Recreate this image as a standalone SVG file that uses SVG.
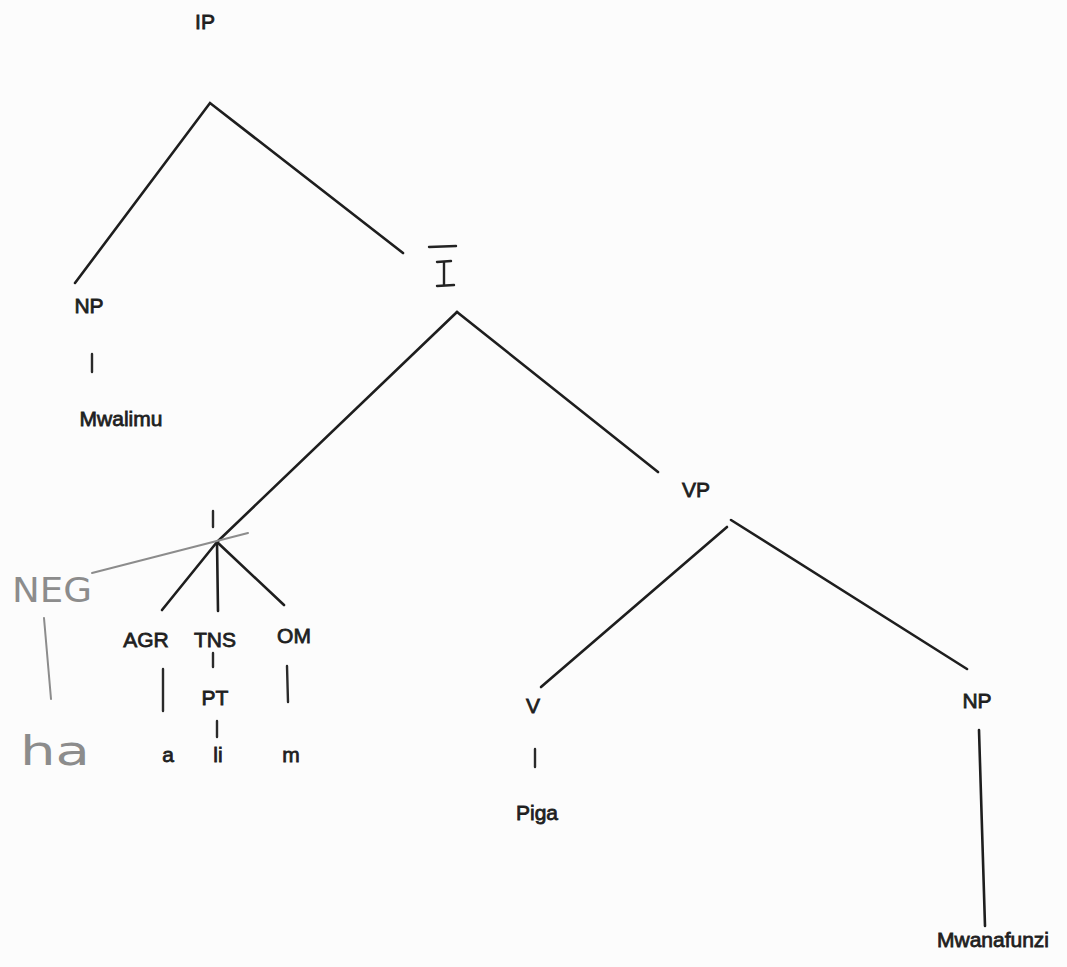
<svg xmlns="http://www.w3.org/2000/svg" width="1067" height="967" viewBox="0 0 1067 967">
<style>
  .lbl { font-family: "Liberation Sans", Arial, sans-serif; font-size: 21px; fill: #1f1f1f; stroke: #1f1f1f; stroke-width: 0.8px; text-anchor: middle; }
  .edge { stroke: #1e1e1e; stroke-width: 2.6; stroke-linecap: round; fill: none; }
  .tick { stroke: #2a2a2a; stroke-width: 2.4; stroke-linecap: round; fill: none; }
  .hand { font-family: "DejaVu Sans", "Liberation Sans", sans-serif; fill: #8c8c8c; font-weight: normal; }
  .handline { stroke: #8c8c8c; stroke-width: 2; stroke-linecap: round; fill: none; }
</style>
<rect width="1067" height="967" fill="#fcfcfc"/>

<g id="connectors">
  <polyline class="edge" points="75,283 210,103 403,253"/>
  <line class="edge" x1="457" y1="312" x2="217" y2="542"/>
  <line class="edge" x1="457" y1="312" x2="658" y2="472"/>
  <line class="edge" x1="217" y1="542" x2="162" y2="610"/>
  <line class="edge" x1="217" y1="542" x2="218" y2="611"/>
  <line class="edge" x1="217" y1="542" x2="284" y2="605"/>
  <line class="edge" x1="727" y1="527" x2="541" y2="687"/>
  <line class="edge" x1="731" y1="520" x2="967" y2="669"/>
  <line class="edge" x1="979" y1="730" x2="985" y2="926"/>
  <line class="tick" x1="92" y1="354" x2="92" y2="372"/>
  <line class="tick" x1="213" y1="511" x2="213" y2="527"/>
  <line class="tick" x1="213" y1="653" x2="213" y2="667"/>
  <line class="tick" x1="163" y1="669" x2="163" y2="711"/>
  <line class="tick" x1="217" y1="721" x2="217" y2="737"/>
  <line class="tick" x1="287" y1="666" x2="288" y2="702"/>
  <line class="tick" x1="535" y1="749" x2="535" y2="767"/>
</g>

<g id="node-IP"><text class="lbl" x="205" y="29">IP</text></g>
<g id="node-NP1"><text class="lbl" x="89" y="313">NP</text></g>
<g id="node-Mwalimu"><text class="lbl" x="121" y="426">Mwalimu</text></g>
<g id="node-Ibar">
  <line x1="429" y1="247" x2="456" y2="246" stroke="#232323" stroke-width="2.4" stroke-linecap="round"/>
  <line x1="444" y1="262" x2="444" y2="285" stroke="#232323" stroke-width="2.4"/>
  <line x1="437" y1="262" x2="451" y2="261" stroke="#232323" stroke-width="2.4" stroke-linecap="round"/>
  <line x1="437" y1="286" x2="454" y2="285" stroke="#232323" stroke-width="2.4" stroke-linecap="round"/>
</g>
<g id="node-VP"><text class="lbl" x="696" y="497">VP</text></g>
<g id="node-AGR"><text class="lbl" x="146" y="647">AGR</text></g>
<g id="node-TNS"><text class="lbl" x="215" y="647">TNS</text></g>
<g id="node-OM"><text class="lbl" x="294" y="643">OM</text></g>
<g id="node-PT"><text class="lbl" x="215" y="705">PT</text></g>
<g id="node-a"><text class="lbl" x="168" y="762">a</text></g>
<g id="node-li"><text class="lbl" x="218" y="762">li</text></g>
<g id="node-m"><text class="lbl" x="291" y="762">m</text></g>
<g id="node-V"><text class="lbl" x="533" y="713">V</text></g>
<g id="node-Piga"><text class="lbl" x="537" y="820">Piga</text></g>
<g id="node-NP2"><text class="lbl" x="977" y="708">NP</text></g>
<g id="node-Mwanafunzi"><text class="lbl" x="993" y="947">Mwanafunzi</text></g>

<g id="annotation">
  <line class="handline" x1="92" y1="573" x2="248" y2="533"/>
  <line class="handline" x1="44" y1="618" x2="51" y2="699"/>
  <text class="hand" x="12" y="602" font-size="34" textLength="80" lengthAdjust="spacingAndGlyphs">NEG</text>
  <text class="hand" x="20" y="765" font-size="40" textLength="70" lengthAdjust="spacingAndGlyphs">ha</text>
</g>
</svg>
